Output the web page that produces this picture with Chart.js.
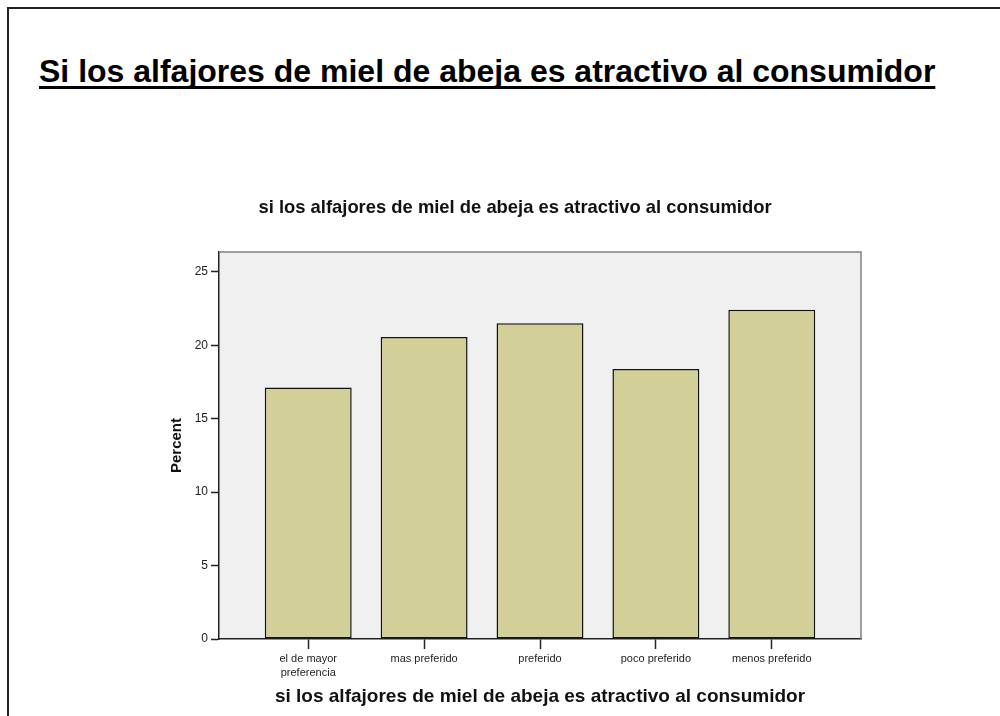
<!DOCTYPE html>
<html lang="es">
  <head>
    <meta charset="UTF-8" />
    <title>Si los alfajores de miel de abeja es atractivo al consumidor</title>
    <style>
      html,
      body {
        margin: 0;
        padding: 0;
        width: 1000px;
        height: 716px;
        overflow: hidden;
        background: #fff;
        font-family: "Liberation Sans", Arial, sans-serif;
      }
      .frame {
        position: absolute;
        left: 7px;
        top: 7px;
        width: 1100px;
        height: 800px;
        border-top: 2px solid #222;
        border-left: 2px solid #222;
      }
      .heading {
        position: absolute;
        left: 39px;
        top: 55px;
        margin: 0;
        font-size: 32px;
        line-height: 1;
        font-weight: bold;
        color: #000;
        white-space: nowrap;
        text-decoration: underline;
        text-decoration-thickness: 3px;
        text-underline-offset: 4px;
        text-decoration-skip-ink: none;
      }
      .chart-box {
        position: absolute;
        left: 0;
        top: 180px;
        width: 1000px;
        height: 536px;
      }
    </style>
  </head>
  <body>
    <div class="frame"></div>
    <h1 class="heading">Si los alfajores de miel de abeja es atractivo al consumidor</h1>
    <div class="chart-box">
      <canvas id="chartBar" width="1000" height="536"></canvas>
    </div>
    <script src="https://cdn.jsdelivr.net/npm/chart.js"></script>
    <script>
      const categories = [
        ["el de mayor", "preferencia"],
        "mas preferido",
        "preferido",
        "poco preferido",
        "menos preferido",
      ];
      const percents = [17.13, 20.56, 21.5, 18.38, 22.43];
      const yTicks = [0, 5, 10, 15, 20, 25];
      const chartTitle =
        "si los alfajores de miel de abeja es atractivo al consumidor";

      const font = '"Liberation Sans", Arial, sans-serif';
      Chart.defaults.font.family = font;
      Chart.defaults.color = "#222";

      // grey plot background + lighter top/right edges, like the SPSS output
      const plotFrame = {
        id: "plotFrame",
        beforeDraw(chart) {
          const { ctx, chartArea: a } = chart;
          ctx.save();
          ctx.fillStyle = "#f0f0f0";
          ctx.fillRect(a.left, a.top, a.right - a.left, a.bottom - a.top);
          ctx.restore();
        },
        afterDraw(chart) {
          const { ctx, chartArea: a } = chart;
          ctx.save();
          ctx.strokeStyle = "#808080";
          ctx.lineWidth = 1.5;
          ctx.beginPath();
          ctx.moveTo(a.left, a.top);
          ctx.lineTo(a.right, a.top);
          ctx.lineTo(a.right, a.bottom);
          ctx.stroke();
          ctx.restore();
        },
      };

      new Chart(document.getElementById("chartBar"), {
        type: "bar",
        data: {
          datasets: [
            {
              data: percents.map((v, i) => ({ x: i, y: v })),
              backgroundColor: "#d3cf98",
              borderColor: "#111",
              borderWidth: 1.5,
              borderSkipped: false,
              barPercentage: 0.75,
              categoryPercentage: 1,
            },
          ],
        },
        plugins: [plotFrame],
        options: {
          responsive: false,
          animation: false,
          layout: {
            padding: { left: 169, right: 139, top: 0, bottom: 0 },
          },
          scales: {
            x: {
              type: "linear",
              min: -0.77,
              max: 4.77,
              offset: false,
              afterFit(scale) {
                scale.height = 77;
              },
              afterBuildTicks(scale) {
                scale.ticks = categories.map((c, i) => ({ value: i }));
              },
              grid: {
                offset: false,
                drawOnChartArea: false,
                drawTicks: true,
                tickLength: 10,
                tickWidth: 1.5,
                tickColor: "#222",
              },
              border: { display: true, color: "#222", width: 1.5 },
              ticks: {
                includeBounds: false,
                autoSkip: false,
                maxRotation: 0,
                padding: 3,
                font: { size: 11, lineHeight: 1.3 },
                callback: (v) => categories[v],
              },
              title: {
                display: true,
                text: chartTitle,
                font: { size: 19, weight: "bold" },
                color: "#111",
                padding: { top: 0, bottom: 8 },
              },
            },
            y: {
              min: 0,
              max: 26.35,
              afterFit(scale) {
                scale.width = 50;
              },
              afterBuildTicks(scale) {
                scale.ticks = yTicks.map((v) => ({ value: v }));
              },
              grid: {
                drawOnChartArea: false,
                drawTicks: true,
                tickLength: 8,
                tickWidth: 1.5,
                tickColor: "#222",
              },
              border: { display: true, color: "#222", width: 1.5 },
              ticks: {
                includeBounds: false,
                padding: 3,
                font: { size: 12 },
              },
              title: {
                display: true,
                text: "Percent",
                font: { size: 15, weight: "bold", lineHeight: 1 },
                color: "#111",
                padding: { top: 0, bottom: 0 },
              },
            },
          },
          plugins: {
            legend: { display: false },
            tooltip: { enabled: false },
            title: {
              display: true,
              text: chartTitle,
              color: "#111",
              font: { size: 18.4, weight: "bold" },
              padding: { top: 17, bottom: 33 },
            },
          },
        },
      });
    </script>
  </body>
</html>
